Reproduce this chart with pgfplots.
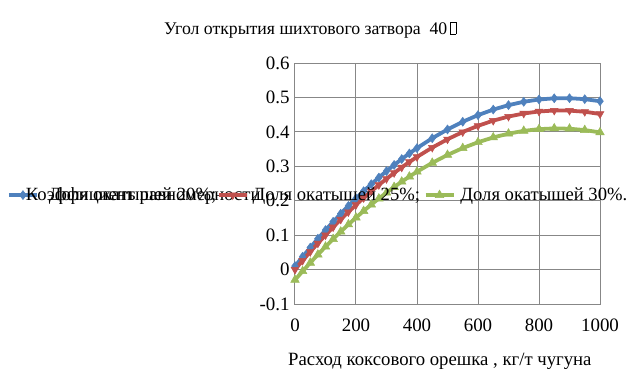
\documentclass[border=0pt]{standalone}
\usepackage{pgfplots}
\pgfplotsset{compat=1.18}
\usepackage{fontspec}
\setmainfont{Liberation Serif}
\definecolor{sBlue}{HTML}{4F81BD}
\definecolor{sRed}{HTML}{C0504D}
\definecolor{sGreen}{HTML}{9BBB59}
\definecolor{gridc}{HTML}{878787}
\pgfplotstableread{
x b r g
0 0.0100 0.0000 -0.0300
25 0.0373 0.0262 -0.0048
50 0.0639 0.0516 0.0197
75 0.0896 0.0762 0.0434
100 0.1146 0.1001 0.0664
125 0.1388 0.1232 0.0886
150 0.1622 0.1456 0.1101
175 0.1848 0.1672 0.1309
200 0.2066 0.1880 0.1509
225 0.2276 0.2081 0.1701
250 0.2479 0.2274 0.1887
275 0.2673 0.2459 0.2064
300 0.2860 0.2637 0.2235
325 0.3039 0.2807 0.2398
350 0.3210 0.2970 0.2553
375 0.3373 0.3125 0.2701
400 0.3528 0.3272 0.2842
450 0.3815 0.3544 0.3100
500 0.4070 0.3785 0.3330
550 0.4294 0.3996 0.3529
600 0.4486 0.4176 0.3698
650 0.4647 0.4326 0.3838
700 0.4776 0.4445 0.3948
750 0.4874 0.4534 0.4029
800 0.4940 0.4592 0.4079
850 0.4975 0.4620 0.4100
900 0.4978 0.4617 0.4091
950 0.4950 0.4584 0.4052
1000 0.4890 0.4520 0.3984
}\data
\begin{document}
\begin{tikzpicture}
\begin{axis}[
  name=ax,
  scale only axis,
  width=305bp, height=241bp,
  xmin=0, xmax=1000, ymin=-0.1, ymax=0.6,
  xtick={0,200,...,1000},
  ytick={-0.1,0,0.1,0.2,0.3,0.4,0.5,0.6},
  grid=major,
  grid style={gridc, line width=1pt},
  axis line style={gridc, line width=1pt},
  major tick length=0pt,
  tick label style={font=\fontsize{19}{22}\selectfont},
  /pgf/number format/assume math mode=true,
  /pgf/number format/1000 sep={},
  yticklabel style={xshift=-2bp},
  xticklabel style={yshift=-11bp},
  title={Угол открытия шихтового затвора\ \ 40\,\raisebox{0pt}{\setlength{\fboxsep}{0pt}\setlength{\fboxrule}{0.5pt}\framebox[6bp]{\rule{0pt}{12bp}}}},
  title style={font=\fontsize{17.8}{20}\selectfont, at={(axis description cs:0.05,1)}, anchor=base, yshift=23bp},
  xlabel={Расход коксового орешка , кг/т чугуна},
  xlabel style={font=\fontsize{18.8}{22}\selectfont, at={(axis description cs:0.475,0)}, anchor=base, yshift=-61bp},
  legend style={at={(axis description cs:-0.944,0.452)}, anchor=west, draw=none, fill=none,
    font=\fontsize{18.7}{22}\selectfont, inner sep=0pt, outer sep=0pt,
    nodes={inner sep=0pt, outer sep=0pt},
    /tikz/every even column/.append style={column sep=0pt},
    /tikz/every odd column/.append style={column sep=0pt}},
  legend columns=-1,
  legend image code/.code={\draw[#1, mark repeat=2, mark phase=2] plot coordinates {(0bp,0bp) (14bp,0bp) (28bp,0bp)};},
  clip=false,
]
\addplot[sBlue, line width=3.8pt, mark=diamond*, mark size=4.5pt, mark options={solid, line width=0.5pt}] table[x=x,y=b] {\data};
\addlegendentry{\makebox[178bp][l]{\hspace{10bp}\makebox[0pt][l]{\hspace{-23bp}Коэффициент равномерности}Доля окатышей 20\%;}}
\addplot[sRed, line width=3.8pt, mark=triangle*, mark size=4.5pt, mark options={solid, rotate=180, line width=0.5pt}] table[x=x,y=r] {\data};
\addlegendentry{\makebox[175bp][l]{\hspace{4bp}Доля окатышей 25\%;}}
\addplot[sGreen, line width=3.8pt, mark=triangle*, mark size=5pt, mark options={solid, line width=0.5pt}] table[x=x,y=g] {\data};
\addlegendentry{\hspace{5bp}Доля окатышей 30\%.}
\end{axis}
\path (ax.south west) ++(-295bp,-86bp) rectangle ++(631bp,390bp);
\end{tikzpicture}
\end{document}
